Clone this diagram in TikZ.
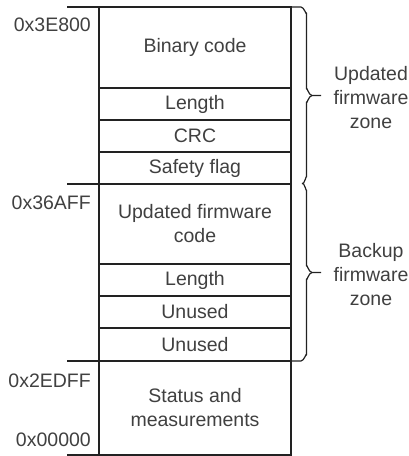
\documentclass[tikz,border=0pt]{standalone}
\usepackage{fontspec}
\setmainfont{Liberation Sans}
\definecolor{txt}{HTML}{404040}
\definecolor{edge}{HTML}{222222}
\begin{document}
\begin{tikzpicture}[x=1pt,y=-1pt,
  lbl/.style={text=txt,font=\fontsize{19.5}{24}\selectfont},
  cell/.style={lbl,draw=edge,line width=1.2pt,minimum width=192pt,inner sep=0pt,outer sep=0pt,
    align=center},
  addr/.style={lbl,anchor=east,inner sep=0pt},
  zone/.style={lbl,align=center,inner sep=0pt},
  tick/.style={draw=edge,line width=1.2pt},
  brace/.style={draw=edge,line width=1.2pt,line join=round}]
\useasboundingbox (0,0) rectangle (409,456);

% memory cells, top to bottom
\node[cell,minimum height=81pt] (bin)  at (195,47.5)  {Binary code};
\node[cell,minimum height=32pt] (len1) at (195,104)   {Length};
\node[cell,minimum height=32pt] (crc)  at (195,136)   {CRC};
\node[cell,minimum height=32pt] (flag) at (195,168)   {Safety flag};
\node[cell,minimum height=80pt] (ufc)  at (195,224)   {Updated firmware\\code};
\node[cell,minimum height=32pt] (len2) at (195,280)   {Length};
\node[cell,minimum height=32pt] (un1)  at (195,312)   {Unused};
\node[cell,minimum height=33pt] (un2)  at (195,344.5) {Unused};
\node[cell,minimum height=94pt] (stat) at (195,408)   {Status and\\measurements};

% address ticks on the left
\draw[tick] (67,7)   -- (bin.north west);
\draw[tick] (67,184) -- (ufc.north west);
\draw[tick] (67,361) -- (stat.north west);
\draw[tick] (67,455) -- (stat.south west);

% address labels
\node[addr] (a1) at (91,25)  {0x3E800};
\node[addr] (a2) at (91,203) {0x36AFF};
\node[addr] (a3) at (91,381) {0x2EDFF};
\node[addr] (a4) at (91,440) {0x00000};

% curly brackets on the right
\draw[brace] (bin.north east) -- (301,7) to[out=0,in=-90] (306.5,13) -- (306.5,89)
  to[out=90,in=180] (312,95.5) -- (321,95.5);
\draw[brace] (312,95.5) to[out=180,in=-90] (306.5,102) -- (306.5,177)
  to[out=90,in=-45] (302,183.5);
\draw[brace] (302,183.5) to[out=45,in=-90] (306.5,190) -- (306.5,266)
  to[out=90,in=180] (312,272.5) -- (321,272.5);
\draw[brace] (312,272.5) to[out=180,in=-90] (306.5,279) -- (306.5,355)
  to[out=90,in=0] (301,361) -- (stat.north east);

% zone labels
\node[zone] (z1) at (371,98)  {Updated\\firmware\\zone};
\node[zone] (z2) at (371,275) {Backup\\firmware\\zone};
\end{tikzpicture}
\end{document}
